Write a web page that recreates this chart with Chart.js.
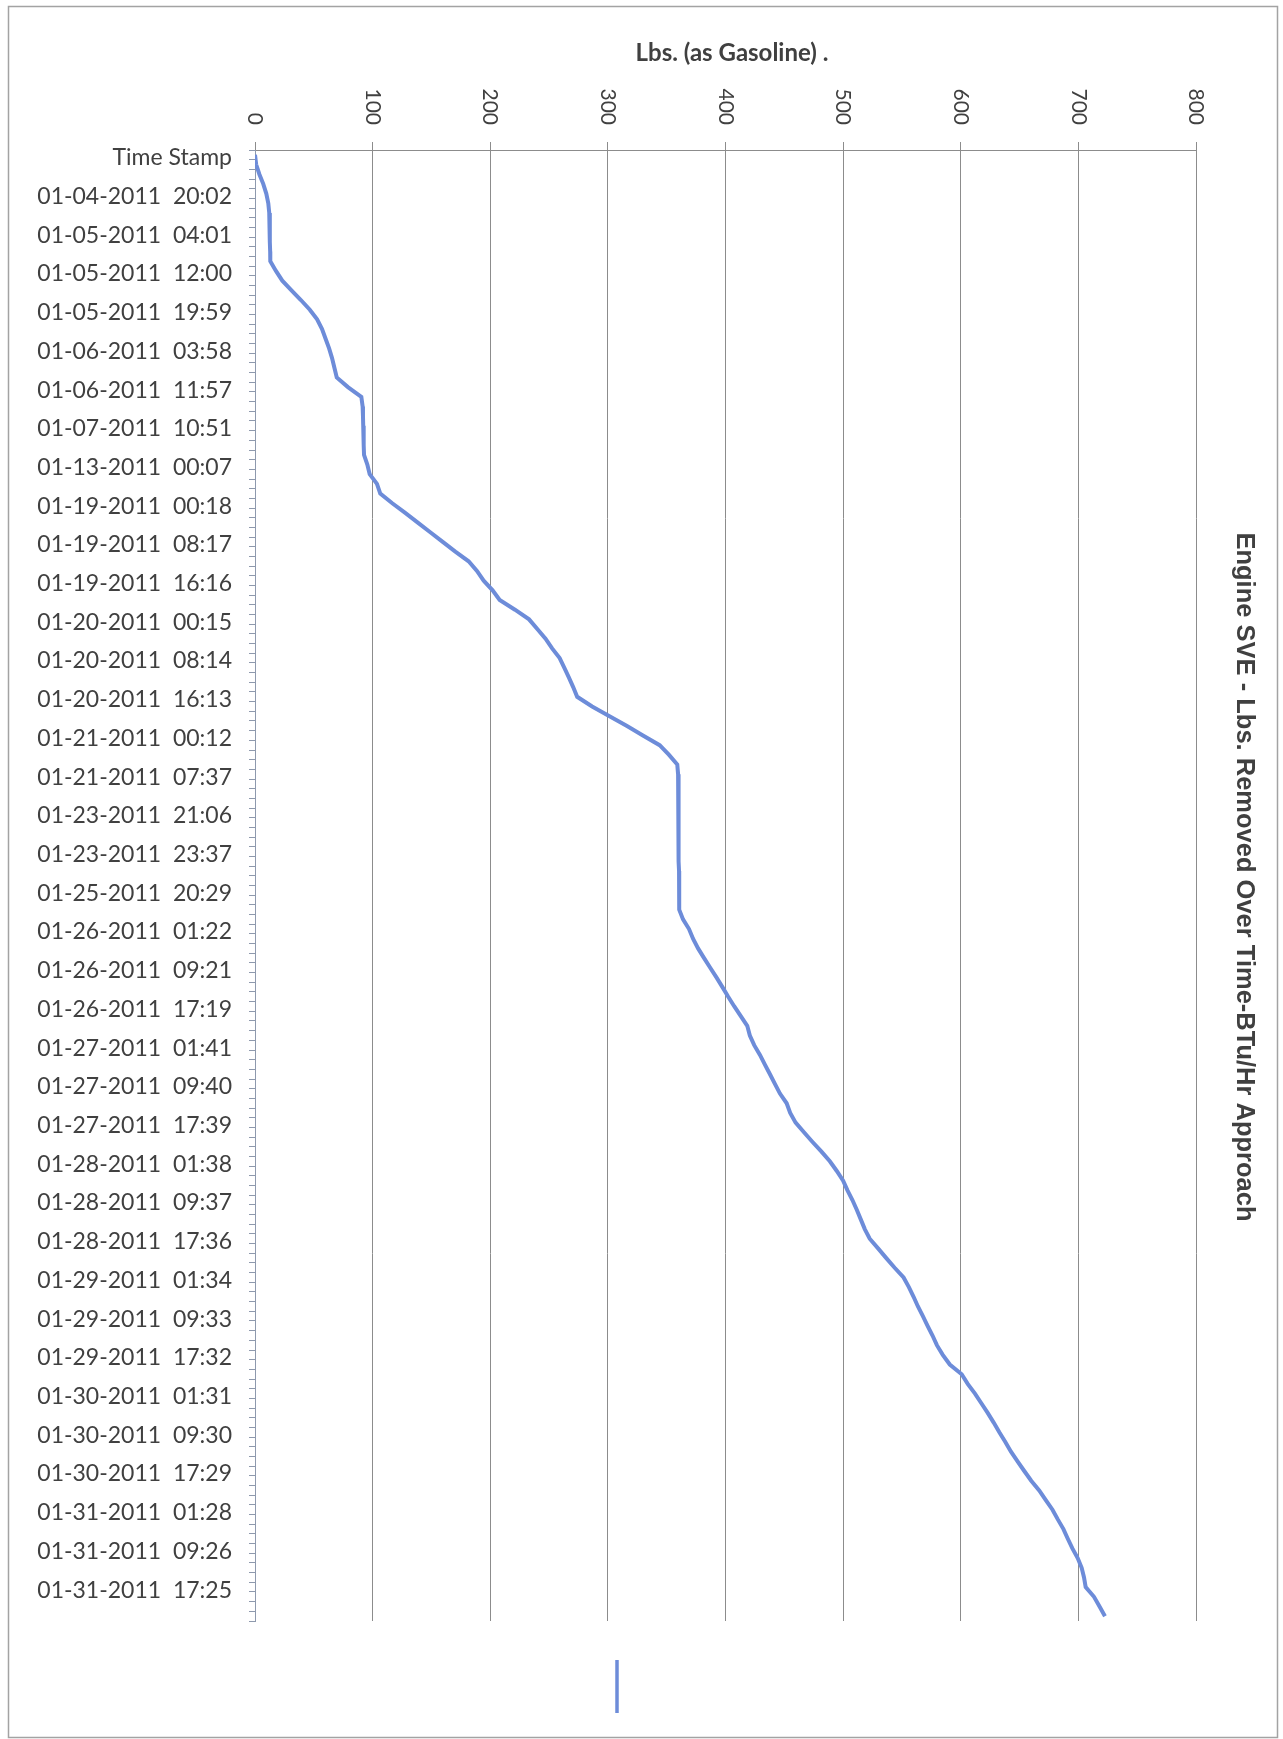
<!DOCTYPE html>
<html>
<head>
<meta charset="utf-8">
<script src="https://cdn.jsdelivr.net/npm/chart.js@4/dist/chart.umd.min.js"></script>
<style>
  html, body { margin: 0; padding: 0; background: #fff; }
  #wrap { width: 1283px; height: 1739px; position: relative; }
</style>
</head>
<body>
<div id="wrap"><canvas id="sveChart"></canvas></div>
<script>
// labels shown on the category axis (one every 4 rows)
const timeStampLabels = [
    "Time Stamp",
    "01-04-2011  20:02", "01-05-2011  04:01", "01-05-2011  12:00", "01-05-2011  19:59",
    "01-06-2011  03:58", "01-06-2011  11:57", "01-07-2011  10:51", "01-13-2011  00:07",
    "01-19-2011  00:18", "01-19-2011  08:17", "01-19-2011  16:16", "01-20-2011  00:15",
    "01-20-2011  08:14", "01-20-2011  16:13", "01-21-2011  00:12", "01-21-2011  07:37",
    "01-23-2011  21:06", "01-23-2011  23:37", "01-25-2011  20:29", "01-26-2011  01:22",
    "01-26-2011  09:21", "01-26-2011  17:19", "01-27-2011  01:41", "01-27-2011  09:40",
    "01-27-2011  17:39", "01-28-2011  01:38", "01-28-2011  09:37", "01-28-2011  17:36",
    "01-29-2011  01:34", "01-29-2011  09:33", "01-29-2011  17:32", "01-30-2011  01:31",
    "01-30-2011  09:30", "01-30-2011  17:29", "01-31-2011  01:28", "01-31-2011  09:26",
    "01-31-2011  17:25"
];
const labelEvery = 4;

// cumulative lbs removed, one value per row
const lbsRemoved = [
    0, 1, 3.7, 7, 9.6, 11.3, 12.1, 12.4, 12.7, 12.7,
    12.9, 13, 17.8, 23.2, 31, 39, 46.6, 52.8, 57, 60,
    63, 65.5, 67.5, 69.5, 79, 90.4, 91.5, 91.8, 92, 92.4,
    92.4, 92.7, 95.5, 97.5, 103.7, 106.5, 116.7, 127.7, 138.4, 149,
    159.6, 170.3, 181.6, 188.7, 194.4, 202, 208, 221, 233, 240,
    247, 252.6, 259, 263, 266.8, 270.5, 273.9, 286.6, 301.4, 315.9,
    329.8, 344, 352, 359, 359.7, 359.8, 359.9, 360, 360, 360.1,
    360.2, 360.3, 360.3, 360.4, 360.5, 360.5, 360.6, 360.7, 360.8, 363.9,
    369, 372.4, 376.7, 381.8, 387, 392.3, 397.4, 402.3, 407.5, 413,
    418.5, 420.7, 424.4, 429.3, 433.5, 437.8, 442, 446.3, 452, 455,
    459.6, 466.7, 474, 481.6, 488.7, 494.6, 500, 503.7, 507.9, 511.6,
    515, 518.4, 522.6, 529.7, 536.7, 543.8, 551.4, 555.9, 559.9, 563.6,
    567.8, 571.8, 576, 579.7, 584.7, 590.7, 600.8, 605.9, 612.1, 617.5,
    622.9, 628, 632.8, 637.9, 642.7, 648.3, 654, 659.9, 666.7, 672.3,
    678, 682.5, 687.3, 691, 694.9, 699.4, 702.8, 704.8, 706.2, 713.3,
    718, 722.6
];

const chartTitle = "Engine SVE - Lbs. Removed Over Time-BTu/Hr Approach";
const valueAxisTitle = "Lbs. (as Gasoline) .";

// one category per row, only every 4th one carries a label
const rowLabels = lbsRemoved.map((v, i) =>
    i % labelEvery === 0 ? (timeStampLabels[i / labelEvery] || "") : ""
);

const lineColor = "#6d8cd9";
const textColor = "#404040";
const gridColor = "#8c8c8c";

// draws the rotated texts, legend key and frame (Excel style)
const excelDecor = {
    id: "excelDecor",
    beforeDraw(chart) {
        const ctx = chart.ctx;
        ctx.save();
        ctx.fillStyle = "#fff";
        ctx.fillRect(0, 0, chart.width, chart.height);
        ctx.strokeStyle = "#a3a3a3";
        ctx.lineWidth = 1.5;
        ctx.strokeRect(8.5, 6.5, 1269, 1731);
        ctx.restore();
    },
    afterDraw(chart) {
        const ctx = chart.ctx;
        const xs = chart.scales.x;
        const area = chart.chartArea;
        ctx.save();

        // value axis labels, turned 90 deg clockwise
        ctx.fillStyle = textColor;
        ctx.font = "21px Lato";
        ctx.textAlign = "right";
        ctx.textBaseline = "middle";
        xs.ticks.forEach(t => {
            const px = xs.getPixelForValue(t.value);
            ctx.save();
            ctx.translate(px, area.top - 25);
            ctx.rotate(Math.PI / 2);
            ctx.fillText(String(t.value), 0, 0);
            ctx.restore();
        });

        // value axis title
        ctx.font = "bold 24px Lato";
        ctx.textAlign = "center";
        ctx.fillText(valueAxisTitle, 732, 53);

        // chart title on the right side
        ctx.font = "bold 25.5px 'Liberation Sans'";
        ctx.translate(1244, 877);
        ctx.rotate(Math.PI / 2);
        ctx.fillText(chartTitle, 0, 0);
        ctx.restore();

        // legend key (series has no name)
        ctx.save();
        ctx.strokeStyle = lineColor;
        ctx.lineWidth = 3.5;
        ctx.beginPath();
        ctx.moveTo(617, 1660);
        ctx.lineTo(617, 1713);
        ctx.stroke();
        ctx.restore();
    }
};

const ctx = document.getElementById("sveChart").getContext("2d");
new Chart(ctx, {
    type: "line",
    data: {
        labels: rowLabels,
        datasets: [{
            label: "",
            data: lbsRemoved,
            borderColor: lineColor,
            borderWidth: 4,
            pointRadius: 0,
            tension: 0,
            fill: false
        }]
    },
    options: {
        indexAxis: "y",
        responsive: true,
        maintainAspectRatio: false,
        animation: false,
        layout: { padding: { left: 0, right: 87, top: 0, bottom: 118 } },
        plugins: {
            legend: { display: false },
            title: { display: false },
            tooltip: { enabled: false }
        },
        scales: {
            x: {
                type: "linear",
                position: "top",
                min: 0,
                max: 800,
                ticks: { stepSize: 100, display: false },
                grid: { color: gridColor, lineWidth: 1, tickLength: 8 },
                border: { color: gridColor, width: 1 },
                afterFit(scale) { scale.height = 150; }
            },
            y: {
                type: "category",
                offset: true,
                ticks: {
                    autoSkip: false,
                    padding: 17,
                    labelOffset: 3,
                    color: textColor,
                    font: { family: "Lato", size: 23 }
                },
                grid: {
                    offset: true,
                    drawOnChartArea: false,
                    color: "#8e99ad",
                    tickLength: 6
                },
                border: { color: "#8e99ad", width: 1 },
                afterFit(scale) { scale.width = 255; }
            }
        }
    },
    plugins: [excelDecor]
});
</script>
</body>
</html>
